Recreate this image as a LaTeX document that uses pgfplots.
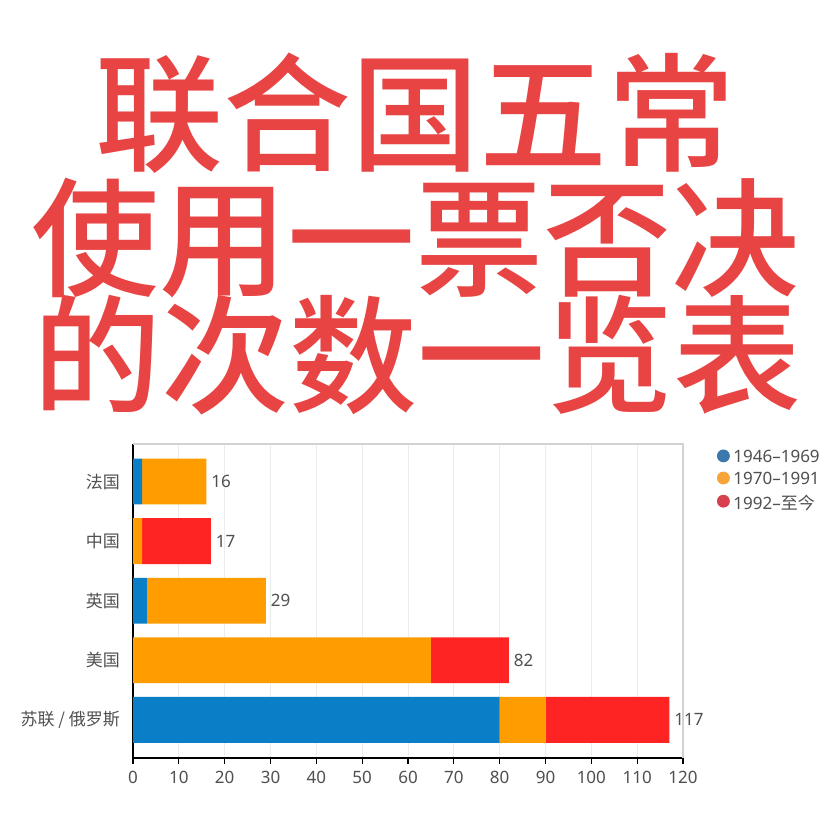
\documentclass[border=0pt]{standalone}
\usepackage{pgfplots}
\pgfplotsset{compat=1.18}
\usepackage{fontspec}
\setmainfont{Noto Sans}
\newfontfamily\cjk{Noto Sans CJK SC}
\newfontfamily\cjktitle{Noto Sans CJK SC}[UprightFont={* Medium}]
\definecolor{titlered}{HTML}{E84444}
\definecolor{barblue}{HTML}{0A7EC6}
\definecolor{barorange}{HTML}{FF9D00}
\definecolor{barred}{HTML}{FF2424}
\definecolor{legblue}{HTML}{3B78AC}
\definecolor{legorange}{HTML}{F7A439}
\definecolor{legred}{HTML}{D9404F}
\definecolor{txtgray}{HTML}{505050}
\pgfplotsset{
  myframe/.style={
    at={(66.5pt,-379pt)}, anchor=south west,
    scale only axis, width=275pt, height=157pt,
    xmin=0, xmax=120, ymin=-0.64, ymax=4.63,
    clip=false,
  }
}
\begin{document}
\begin{tikzpicture}
\path[use as bounding box, fill=white] (0pt,0pt) rectangle (414pt,-406.5pt);
\node[font=\cjktitle\fontsize{64}{64}\selectfont, text=titlered] at (207.5pt,-56.5pt) {联合国五常};
\node[font=\cjktitle\fontsize{64}{64}\selectfont, text=titlered] at (207.5pt,-119pt) {使用一票否决};
\node[font=\cjktitle\fontsize{64}{64}\selectfont, text=titlered] at (208.5pt,-177.5pt) {的次数一览表};
\begin{axis}[
  myframe,
  xbar stacked, bar width=0.77,
  xtick={0,10,...,120},
  ytick={0,1,2,3,4},
  yticklabels={苏联 / 俄罗斯, 美国, 英国, 中国, 法国},
  yticklabel style={font=\cjk\fontsize{8.5}{9}\selectfont, text=txtgray},
  xticklabel style={font=\fontsize{8.5}{9}\selectfont, text=txtgray},
  /pgf/number format/assume math mode=true,
  axis lines=left,
  axis line style={-, black, line width=0.8pt},
  tick align=outside,
  major tick length=3pt,
  xtick style={black, line width=0.6pt},
  ytick style={draw=none},
  xmajorgrids, grid style={gray!15, line width=0.5pt},
  legend style={at={(1,1)}, anchor=north west, xshift=14pt, yshift=1pt, draw=none, fill=none,
    font=\fontsize{8.5}{9}\selectfont, text=txtgray, row sep=-0.6pt},
  legend cell align=left,
]
\addlegendimage{only marks, mark=*, mark size=3pt, color=legblue}
\addlegendentry{1946–1969}
\addlegendimage{only marks, mark=*, mark size=3pt, color=legorange}
\addlegendentry{1970–1991}
\addlegendimage{only marks, mark=*, mark size=3pt, color=legred}
\addlegendentry{1992–{\cjk 至今}}
\addplot[forget plot, fill=barblue, draw=none] coordinates {(80,0) (0,1) (3,2) (0,3) (2,4)};
\addplot[forget plot, fill=barorange, draw=none] coordinates {(10,0) (65,1) (26,2) (2,3) (14,4)};
\addplot[forget plot, fill=barred, draw=none] coordinates {(27,0) (17,1) (0,2) (15,3) (0,4)};
\draw[gray!35, line width=0.6pt] (rel axis cs:0,1) -- (rel axis cs:1,1) -- (rel axis cs:1,0);
\end{axis}
\begin{axis}[myframe, hide axis]
\addplot[only marks, mark=none, nodes near coords, point meta=explicit symbolic,
  every node near coord/.style={anchor=west, font=\fontsize{8.5}{9}\selectfont, text=txtgray, xshift=-1pt}]
  coordinates {(117,0) [117] (82,1) [82] (29,2) [29] (17,3) [17] (16,4) [16]};
\end{axis}
\end{tikzpicture}
\end{document}
